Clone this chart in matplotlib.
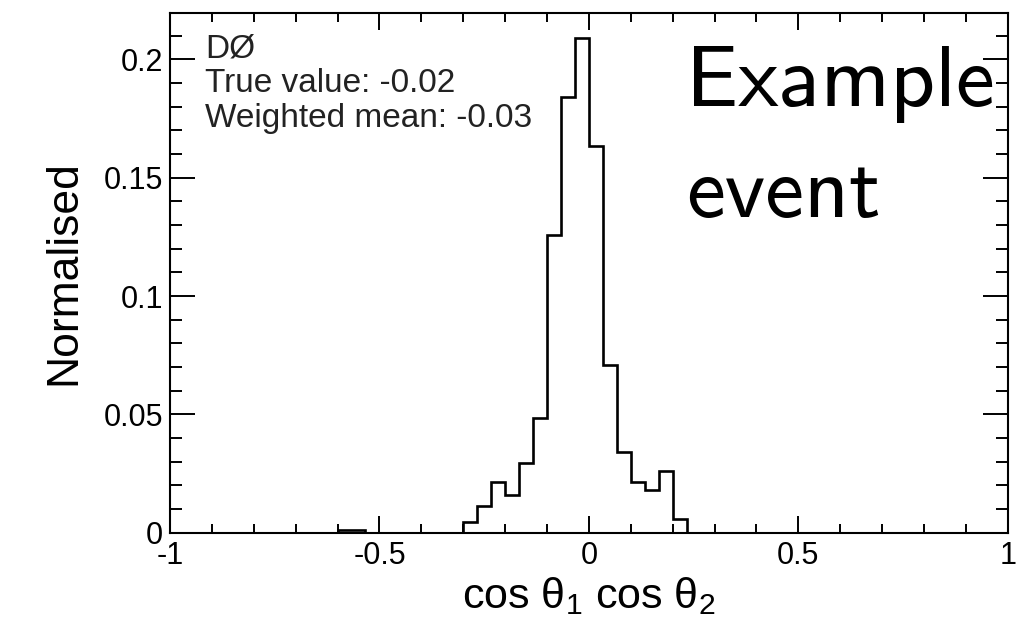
import numpy as np
import matplotlib
matplotlib.use("Agg")
import matplotlib.pyplot as plt
from matplotlib.ticker import MultipleLocator, FixedLocator

# histogram: 60 bins between -1 and 1 (width 1/30)
bin_edges = np.linspace(-1, 1, 61)
# bin contents (index 0 = [-1, -0.967])
normalised = [
    0, 0, 0, 0, 0, 0, 0, 0, 0, 0,
    0, 0, 0, 0, 0, 0, 0, 0, 0, 0,
    0, 0, 0, 0, 0, 0, 0, 0, 0, 0,
    0, 0, 0, 0, 0, 0, 0, 0, 0, 0,
    0, 0, 0, 0, 0, 0, 0, 0, 0, 0,
    0, 0, 0, 0, 0, 0, 0, 0, 0, 0,
]
peak_bins = {
    -18: 0.0010, -17: 0.0010,
    -9: 0.0046, -8: 0.0113, -7: 0.0215, -6: 0.0158, -5: 0.0294,
    -4: 0.0485, -3: 0.1256, -2: 0.1840, -1: 0.2090,
    0: 0.1634, 1: 0.0707, 2: 0.0340, 3: 0.0213, 4: 0.0180,
    5: 0.0260, 6: 0.0058,
}
for k, v in peak_bins.items():
    normalised[k + 30] = v

x_ticks = [-1, -0.5, 0, 0.5, 1]
x_ticklabels = ["-1", "-0.5", "0", "0.5", "1"]
y_ticks = [0, 0.05, 0.1, 0.15, 0.2]
y_ticklabels = ["0", "0.05", "0.1", "0.15", "0.2"]
info_lines = ["DØ", "True value: -0.02", "Weighted mean: -0.03"]

plt.rcParams["font.family"] = ["Liberation Sans", "DejaVu Sans"]
plt.rcParams["mathtext.fontset"] = "custom"
plt.rcParams["mathtext.rm"] = "Liberation Sans"
plt.rcParams["mathtext.it"] = "Liberation Sans"

fig = plt.figure(figsize=(10.18, 6.36), dpi=100)
ax = fig.add_axes([0.167, 0.1625, 0.823, 0.817])

ax.stairs(normalised, bin_edges, color="black", lw=1.9)

ax.set_xlim(-1, 1)
ax.set_ylim(0, 0.2196)
ax.xaxis.set_major_locator(FixedLocator(x_ticks))
ax.set_xticklabels(x_ticklabels)
ax.xaxis.set_minor_locator(MultipleLocator(0.1))
ax.yaxis.set_major_locator(FixedLocator(y_ticks))
ax.set_yticklabels(y_ticklabels)
ax.yaxis.set_minor_locator(MultipleLocator(0.01))

ax.tick_params(which="both", direction="in", top=True, right=True,
               width=1.4, labelsize=22)
ax.tick_params(axis="x", which="major", length=12, pad=6)
ax.tick_params(axis="x", which="minor", length=6.5)
ax.tick_params(axis="y", which="major", length=18, pad=5)
ax.tick_params(axis="y", which="minor", length=8.5)
for s in ax.spines.values():
    s.set_linewidth(1.5)

ax.set_ylabel("Normalised", fontsize=32, labelpad=14)
ax.set_xlabel(r"cos $\mathrm{\theta}_{1}$ cos $\mathrm{\theta}_{2}$", fontsize=31, labelpad=3)

# info text at top left
for i, line in enumerate(info_lines):
    fig.text(205 / 1018, 1 - (49 + 34.5 * i) / 636, line, fontsize=24,
             color="#222222", va="center", ha="left")

# slide annotation
fig.text(686 / 1018, 1 - 106 / 636, "Example", family="cmss10", fontsize=63,
         va="baseline", ha="left")
fig.text(686 / 1018, 1 - 217 / 636, "event", family="cmss10", fontsize=63,
         va="baseline", ha="left")

fig.savefig("out.png", dpi=100)
